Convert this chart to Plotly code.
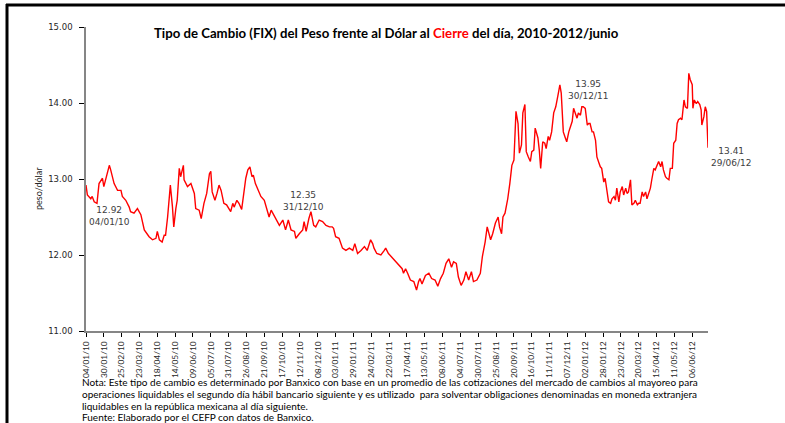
import pandas as pd
import plotly.graph_objects as go

# ---- data (day offset from 04/01/2010, FIX value) ----
start_date = "2010-01-04"
day_offsets = [
    0, 2, 7, 9, 12, 16, 19, 24, 26, 29, 34, 36, 41, 46, 51, 53, 58, 63, 65, 70,
    75, 80, 85, 92, 97, 102, 104, 107, 111, 114, 116, 119, 123, 126, 128, 131, 133, 136, 138, 142,
    143, 148, 153, 158, 160, 165, 168, 172, 176, 180, 182, 184, 188, 191, 194, 197, 199, 201, 205, 209,
    211, 214, 216, 220, 223, 227, 230, 233, 236, 239, 242, 244, 247, 250, 255, 260, 264, 267, 270, 274,
    278, 282, 287, 289, 291, 295, 299, 304, 306, 311, 316, 318, 321, 325, 328, 332, 335, 340, 345, 350,
    355, 359, 361, 364, 369, 374, 379, 384, 389, 392, 396, 401, 406, 410, 413, 415, 418, 420, 424, 430,
    435, 437, 441, 445, 449, 451, 456, 461, 463, 466, 469, 473, 478, 482, 485, 487, 490, 495, 500, 504,
    509, 513, 517, 521, 525, 529, 533, 536, 540, 543, 547, 551, 554, 558, 562, 565, 570, 575, 578, 582,
    585, 587, 590, 593, 597, 601, 603, 606, 608, 611, 615, 618, 621, 624, 627, 630, 632, 635, 637, 640,
    642, 645, 648, 650, 653, 655, 659, 661, 663, 666, 669, 671, 674, 676, 679, 682, 685, 688, 691, 693,
    696, 699, 701, 704, 706, 709, 711, 714, 716, 718, 721, 723, 725, 728, 731, 733, 735, 738, 740, 743,
    745, 748, 750, 752, 755, 757, 760, 762, 765, 767, 770, 772, 774, 777, 779, 782, 784, 787, 789, 791,
    794, 796, 799, 801, 804, 806, 808, 811, 813, 816, 818, 821, 823, 825, 828, 830, 833, 835, 838, 840,
    842, 845, 847, 850, 852, 855, 857, 860, 862, 864, 867, 869, 872, 874, 877, 879, 881, 884, 885, 887,
    890, 892, 895, 897, 898, 901, 903, 905, 906, 907,
]
fix_values = [
    12.92, 12.79, 12.74, 12.77, 12.70, 12.68, 12.94, 13.01, 12.90, 13.01, 13.18, 13.12, 12.94, 12.85, 12.85, 12.77, 12.72, 12.63, 12.57, 12.55,
    12.61, 12.53, 12.33, 12.24, 12.20, 12.22, 12.31, 12.20, 12.17, 12.26, 12.26, 12.50, 12.92, 12.64, 12.37, 12.61, 12.72, 13.14, 13.03, 13.18,
    12.99, 12.90, 12.94, 12.81, 12.61, 12.59, 12.48, 12.68, 12.81, 13.07, 13.10, 12.83, 12.72, 12.81, 12.92, 12.85, 12.77, 12.68, 12.66, 12.59,
    12.57, 12.68, 12.63, 12.72, 12.68, 12.60, 12.85, 13.01, 13.12, 13.16, 13.03, 13.05, 12.94, 12.88, 12.77, 12.72, 12.57, 12.50, 12.59, 12.52,
    12.44, 12.39, 12.46, 12.37, 12.33, 12.46, 12.33, 12.31, 12.22, 12.28, 12.33, 12.44, 12.31, 12.48, 12.57, 12.39, 12.37, 12.46, 12.44, 12.39,
    12.37, 12.37, 12.35, 12.24, 12.22, 12.09, 12.06, 12.09, 12.06, 12.15, 12.02, 12.06, 12.11, 12.06, 12.13, 12.20, 12.15, 12.09, 12.02, 12.00,
    12.06, 12.09, 12.02, 11.98, 11.95, 11.92, 11.87, 11.82, 11.76, 11.82, 11.76, 11.67, 11.65, 11.54, 11.65, 11.69, 11.62, 11.73, 11.76, 11.69,
    11.67, 11.59, 11.69, 11.76, 11.89, 11.95, 11.84, 11.91, 11.89, 11.71, 11.60, 11.67, 11.78, 11.67, 11.78, 11.65, 11.67, 11.76, 11.98, 12.17,
    12.37, 12.31, 12.20, 12.28, 12.42, 12.50, 12.37, 12.28, 12.50, 12.55, 12.74, 12.94, 13.18, 13.25, 13.89, 13.73, 13.34, 13.45, 13.87, 13.98,
    13.36, 13.29, 13.23, 13.36, 13.38, 13.67, 13.54, 13.38, 13.14, 13.49, 13.47, 13.40, 13.56, 13.51, 13.62, 13.87, 13.95, 14.09, 14.24, 14.13,
    13.62, 13.54, 13.49, 13.62, 13.67, 13.76, 13.93, 13.84, 13.80, 13.87, 13.84, 13.95, 13.95, 13.93, 13.71, 13.73, 13.73, 13.62, 13.62, 13.51,
    13.29, 13.21, 13.16, 13.14, 12.96, 13.01, 12.81, 12.70, 12.68, 12.74, 12.77, 12.72, 12.88, 12.70, 12.83, 12.90, 12.79, 12.88, 12.81, 12.83,
    12.99, 12.66, 12.68, 12.72, 12.66, 12.68, 12.68, 12.83, 12.77, 12.83, 12.74, 12.81, 12.88, 12.99, 13.14, 13.12, 13.18, 13.23, 13.16, 13.23,
    13.12, 13.03, 13.01, 12.99, 13.14, 13.14, 13.47, 13.51, 13.73, 13.78, 13.80, 13.78, 14.04, 13.95, 13.93, 14.39, 14.31, 14.24, 13.93, 14.04,
    13.99, 14.02, 13.98, 13.91, 13.71, 13.82, 13.95, 13.89, 13.65, 13.41,
]

# labelled points
label_values = [12.92, 12.35, 13.95, 13.41]
label_texts = ["04/01/10", "31/12/10", "30/12/11", "29/06/12"]

y_ticks = [11, 12, 13, 14, 15]

title_html = ("<b>Tipo de Cambio (FIX) del Peso frente al Dólar al "
              "<span style='color:#FF0000'>Cierre</span> del día, 2010-2012/junio</b>")
note_lines = [
    "Nota: Este tipo de cambio es determinado por Banxico con base en un promedio de las cotizaciones del mercado de cambios al mayoreo para",
    "operaciones liquidables el segundo día hábil bancario siguiente y es utilizado  para solventar obligaciones denominadas en moneda extranjera",
    "liquidables en la república mexicana al día siguiente.",
    "Fuente: Elaborado por el CEFP con datos de Banxico.",
]

# ---- figure ----
W, H = 785, 423
L, R, T, B = 86, 708, 27, 331  # plot area in pixels


def px(x):
    return (x - L) / (R - L)


def py(y):
    return (B - y) / (B - T)


dates = pd.Timestamp(start_date) + pd.to_timedelta(day_offsets, unit="D")
x_range = ["2010-01-04", "2012-06-29"]
dtick_ms = 26 * 86400000

fig = go.Figure()
fig.add_trace(go.Scatter(x=dates, y=fix_values, mode="lines",
                         line=dict(color="#FF0000", width=1.4), showlegend=False,
                         hoverinfo="x+y"))

axis_gray = "#868686"
fig.update_layout(
    width=W, height=H,
    margin=dict(l=L, r=W - R, t=T, b=H - B, pad=0),
    paper_bgcolor="white", plot_bgcolor="white",
    showlegend=False,
    xaxis=dict(
        type="date", range=x_range,
        tick0="2010-01-04", dtick=dtick_ms,
        tickformat="%d/%m/%y", tickangle=-90,
        ticks="outside", ticklen=4, tickcolor="black", tickwidth=1,
        ticklabelstandoff=1,
        showline=True, linecolor=axis_gray, linewidth=2,
        showgrid=False, zeroline=False,
        tickfont=dict(family="Lato, Carlito, sans-serif", size=8.4, color="#262626"),
    ),
    xaxis2=dict(
        type="date", range=x_range, overlaying="x", anchor="y", side="bottom",
        tick0="2010-01-04", dtick=dtick_ms,
        ticks="inside", ticklen=4, tickcolor="black", tickwidth=1,
        showticklabels=False, showline=False, showgrid=False, zeroline=False,
    ),
    yaxis=dict(
        range=[11, 15], tickvals=y_ticks, tickformat=".2f",
        ticks="outside", ticklen=5, tickcolor="black", tickwidth=1,
        ticklabelstandoff=5,
        showline=True, linecolor=axis_gray, linewidth=1.5,
        showgrid=False, zeroline=False,
        tickfont=dict(family="DejaVu Sans, Verdana, sans-serif", size=8.5, color="#262626"),
    ),
)

annotations = []
# title
annotations.append(dict(xref="paper", yref="paper", x=px(386), y=py(33), text=title_html,
                        showarrow=False, xanchor="center", yanchor="middle",
                        font=dict(family="Lato, sans-serif", size=13.2, color="black")))
# y-axis title
annotations.append(dict(xref="paper", yref="paper", x=px(38), y=py(188), text="peso/dólar",
                        textangle=-90, showarrow=False, xanchor="center", yanchor="middle",
                        font=dict(family="Lato, sans-serif", size=9, color="#262626")))
# point labels
label_pos = [(109, 216), (303, 201), (588, 90), (731, 157)]
for (lx, ly), v, t in zip(label_pos, label_values, label_texts):
    annotations.append(dict(xref="paper", yref="paper", x=px(lx), y=py(ly),
                            text=f"{v:.2f}<br>{t}", showarrow=False,
                            xanchor="center", yanchor="middle", align="center",
                            font=dict(family="DejaVu Sans, Verdana, sans-serif", size=9, color="#404040")))
# notes
for line, yy in zip(note_lines, [382, 394, 405.5, 416.5]):
    annotations.append(dict(xref="paper", yref="paper", x=px(80), y=py(yy), text=line,
                            showarrow=False, xanchor="left", yanchor="middle",
                            font=dict(family="Lato, sans-serif", size=10, color="black")))
fig.update_layout(annotations=annotations)

# outer frame (left and top edges visible)
fig.add_shape(type="line", xref="paper", yref="paper", x0=px(7), x1=px(7), y0=py(4), y1=py(430),
              line=dict(color="black", width=3))
fig.add_shape(type="line", xref="paper", yref="paper", x0=px(6), x1=px(800), y0=py(5), y1=py(5),
              line=dict(color="black", width=3))

fig.write_html("out.html", config={"displayModeBar": False},
               post_script="document.body.style.margin='0px';")
